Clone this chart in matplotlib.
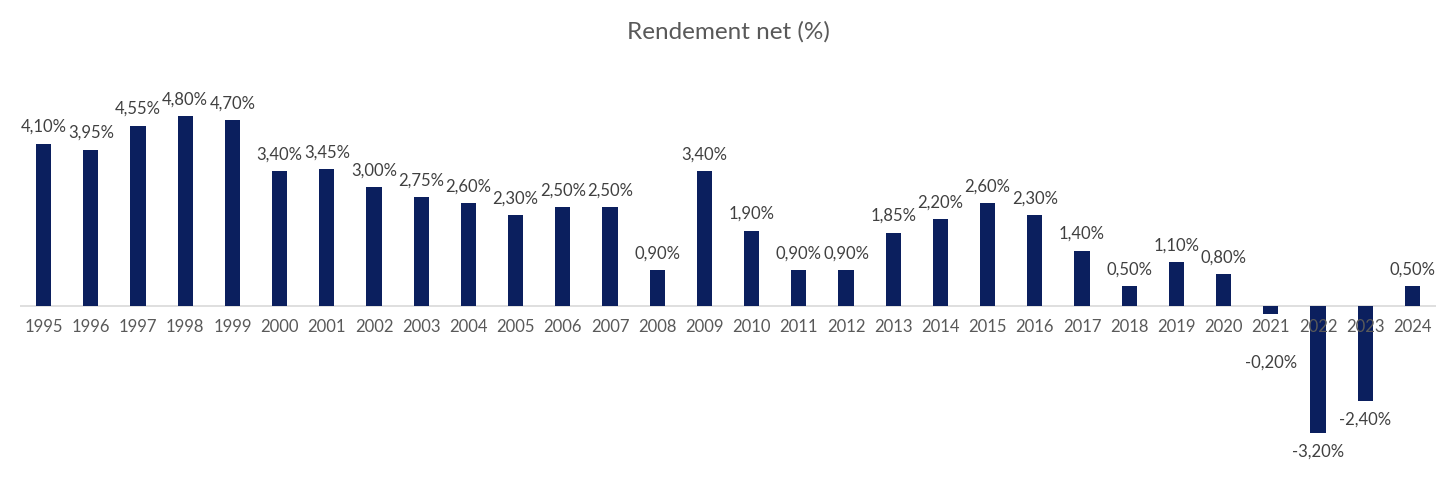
import matplotlib.pyplot as plt
import numpy as np

plt.rcParams['font.family'] = ['Lato', 'DejaVu Sans']

years = [str(y) for y in range(1995, 2025)]
rendement = [4.10, 3.95, 4.55, 4.80, 4.70, 3.40, 3.45, 3.00, 2.75, 2.60,
             2.30, 2.50, 2.50, 0.90, 3.40, 1.90, 0.90, 0.90, 1.85, 2.20,
             2.60, 2.30, 1.40, 0.50, 1.10, 0.80, -0.20, -3.20, -2.40, 0.50]

BAR_COLOR = '#0b1f5e'
TEXT_COLOR = '#595959'

fig = plt.figure(figsize=(14.56, 4.86), dpi=100)
ax = fig.add_axes([20 / 1456, 16 / 486, 1416 / 1456, 410 / 486])

x = np.arange(len(years))
ax.bar(x, rendement, width=0.32, color=BAR_COLOR, zorder=1)

# Data labels
for xi, v in zip(x, rendement):
    txt = f'{v:.2f}%'.replace('.', ',')
    if v >= 0:
        ax.annotate(txt, (xi, v), xytext=(0, 12), textcoords='offset points',
                    ha='center', va='center', fontsize=12, color='#404040')
    else:
        ax.annotate(txt, (xi, min(v, -0.95)), xytext=(0, -13.5),
                    textcoords='offset points', ha='center', va='center',
                    fontsize=12, color='#404040')

# Year labels sit just under the zero line (drawn over the negative bars)
for xi, yr in zip(x, years):
    ax.annotate(yr, (xi, 0), xytext=(0, -15), textcoords='offset points',
                ha='center', va='center', fontsize=12, color=TEXT_COLOR,
                zorder=3)

ax.axhline(0, color='#d9d9d9', linewidth=1.2, zorder=0.5)

ax.set_xlim(-0.5, len(years) - 0.5)
ax.set_ylim(-4.14, 6.21)
ax.set_xticks([])
ax.set_yticks([])

for s in ax.spines.values():
    s.set_visible(False)

fig.text(0.5, 1 - 32 / 486, 'Rendement net (%)', ha='center', va='center',
         fontsize=17.5, color=TEXT_COLOR)

plt.savefig('out.png', dpi=100)
